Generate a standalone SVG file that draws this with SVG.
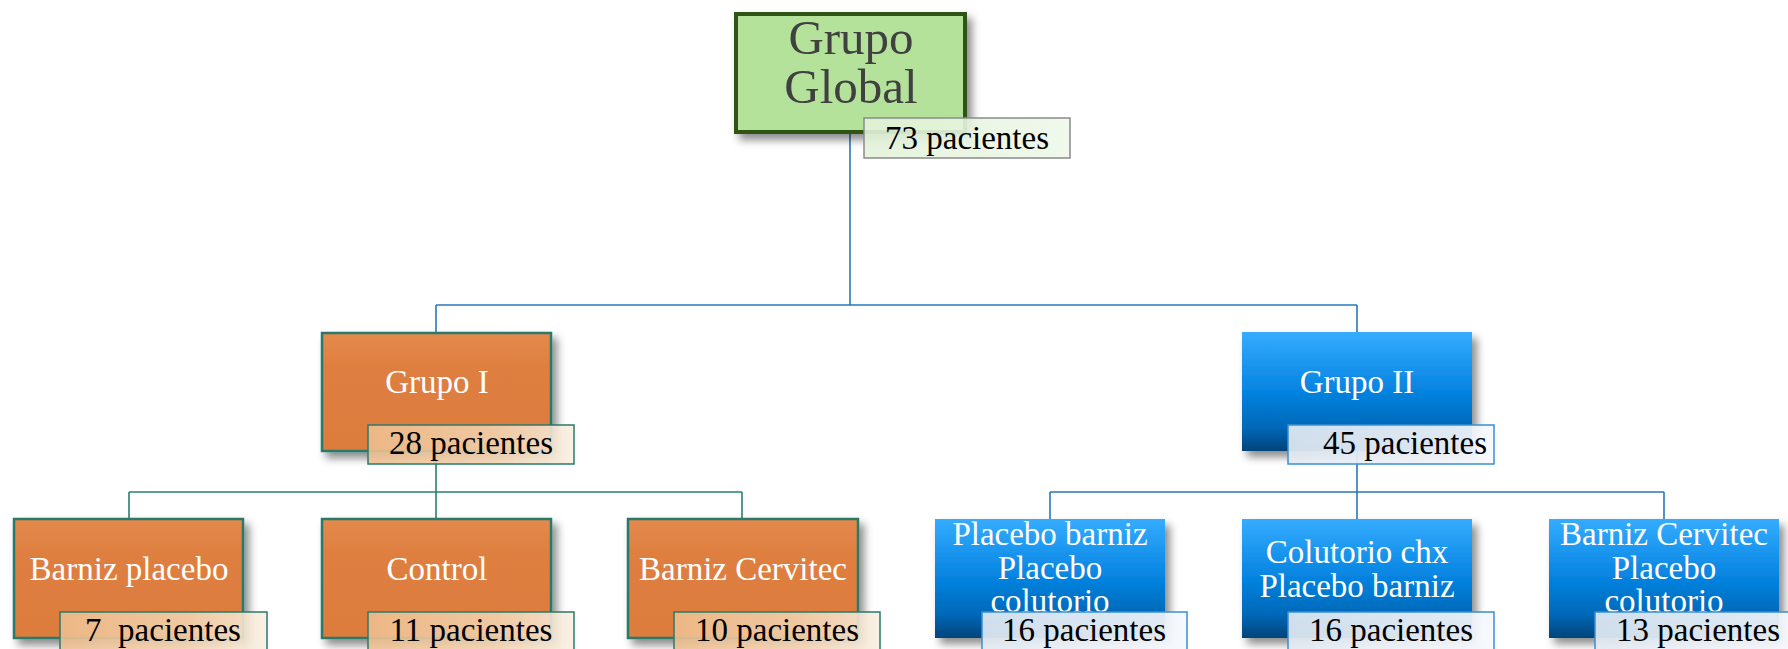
<svg xmlns="http://www.w3.org/2000/svg" width="1788" height="649" viewBox="0 0 1788 649">
<defs>
<filter id="sh" x="-20%" y="-20%" width="150%" height="150%">
<feDropShadow dx="5" dy="6" stdDeviation="4" flood-color="#000" flood-opacity="0.45"/>
</filter>
<linearGradient id="gOr" x1="0" y1="0" x2="0" y2="1">
<stop offset="0" stop-color="#e48a4c"/><stop offset="0.3" stop-color="#de7f40"/><stop offset="1" stop-color="#dc7d3e"/>
</linearGradient>
<linearGradient id="gBl" x1="0" y1="0" x2="0" y2="1">
<stop offset="0" stop-color="#35acff"/><stop offset="0.5" stop-color="#0583e0"/><stop offset="0.8" stop-color="#0268b8"/><stop offset="1" stop-color="#00447a"/>
</linearGradient>
<linearGradient id="lOr" x1="0" y1="0" x2="1" y2="0">
<stop offset="0" stop-color="#efbf8f"/><stop offset="0.6" stop-color="#f2d2ae"/><stop offset="1" stop-color="#f8efe1"/>
</linearGradient>
<linearGradient id="lBl" x1="0" y1="0" x2="1" y2="0">
<stop offset="0" stop-color="#e2eaf3"/><stop offset="1" stop-color="#f5f8fc"/>
</linearGradient>
<linearGradient id="lGr" x1="0" y1="0" x2="1" y2="0">
<stop offset="0" stop-color="#e2f2d8"/><stop offset="1" stop-color="#eef8ea"/>
</linearGradient>
</defs>
<style>
.txt{font-family:"Liberation Serif","Times New Roman",serif;text-anchor:middle}
.w{fill:#ffffff;font-size:33px}
.lab{fill:#000000;font-size:33px;white-space:pre}
.or{fill:url(#gOr);stroke:#2b7a6c;stroke-width:2.5}
.bl{fill:url(#gBl)}
.lor{fill:url(#lOr);fill-opacity:0.88;stroke:#2b7a6c;stroke-width:1.5}
.lbl{fill:url(#lBl);fill-opacity:0.92;stroke:#3a8fd2;stroke-width:1.5}
.cb{fill:none;stroke:#2a78b8;stroke-width:1.6}
.ct{fill:none;stroke:#2a7f72;stroke-width:1.6}
</style>
<rect width="1788" height="649" fill="#ffffff"/>
<g id="connectors">
<path class="cb" d="M850,133 V305 M436,305 H1357 M436,305 V332 M1357,305 V332"/>
<path class="ct" d="M436,451 V492 M129,492 H742 M129,492 V519 M436,492 V519 M742,492 V519"/>
<path class="cb" d="M1357,451 V492 M1050,492 H1664 M1050,492 V519 M1357,492 V519 M1664,492 V519"/>
</g>
<g id="global">
<rect x="736" y="14" width="229" height="118" fill="#b5e29b" stroke="#2f5418" stroke-width="4" filter="url(#sh)"/>
<text class="txt" x="851" y="54" font-size="49" fill="#404040">Grupo</text>
<text class="txt" x="851" y="103" font-size="49" fill="#404040">Global</text>
<rect x="864" y="118" width="206" height="40" fill="url(#lGr)" fill-opacity="0.9" stroke="#8a8a8a" stroke-width="1.5"/>
<text class="txt lab" x="967" y="149">73 pacientes</text>
</g>
<g id="grupo1">
<rect class="or" x="322" y="333" width="229" height="118" filter="url(#sh)"/>
<text class="txt w" x="437" y="393">Grupo I</text>
<rect class="lor" x="368" y="425" width="206" height="39"/>
<text class="txt lab" x="471" y="454">28 pacientes</text>
</g>
<g id="grupo2">
<rect class="bl" x="1242" y="332" width="230" height="119" filter="url(#sh)"/>
<text class="txt w" x="1357" y="393">Grupo II</text>
<rect class="lbl" x="1288" y="425" width="206" height="39"/>
<text class="txt lab" x="1405" y="454">45 pacientes</text>
</g>
<g id="barniz-placebo">
<rect class="or" x="14" y="519" width="229" height="119" filter="url(#sh)"/>
<text class="txt w" x="129" y="580">Barniz placebo</text>
<rect class="lor" x="60" y="612" width="207" height="45"/>
<text class="txt lab" x="163" y="641">7  pacientes</text>
</g>
<g id="control">
<rect class="or" x="322" y="519" width="229" height="119" filter="url(#sh)"/>
<text class="txt w" x="437" y="580">Control</text>
<rect class="lor" x="368" y="612" width="206" height="45"/>
<text class="txt lab" x="471" y="641">11 pacientes</text>
</g>
<g id="barniz-cervitec">
<rect class="or" x="628" y="519" width="230" height="119" filter="url(#sh)"/>
<text class="txt w" x="743" y="580">Barniz Cervitec</text>
<rect class="lor" x="674" y="612" width="206" height="45"/>
<text class="txt lab" x="777" y="641">10 pacientes</text>
</g>
<g id="placebo-barniz">
<rect class="bl" x="935" y="519" width="230" height="119" filter="url(#sh)"/>
<text class="txt w" x="1050" y="545">Placebo barniz</text>
<text class="txt w" x="1050" y="579">Placebo</text>
<text class="txt w" x="1050" y="612">colutorio</text>
<rect class="lbl" x="982" y="612" width="205" height="45"/>
<text class="txt lab" x="1084" y="641">16 pacientes</text>
</g>
<g id="colutorio-chx">
<rect class="bl" x="1242" y="519" width="230" height="119" filter="url(#sh)"/>
<text class="txt w" x="1357" y="563">Colutorio chx</text>
<text class="txt w" x="1357" y="597">Placebo barniz</text>
<rect class="lbl" x="1288" y="612" width="206" height="45"/>
<text class="txt lab" x="1391" y="641">16 pacientes</text>
</g>
<g id="cervitec-placebo">
<rect class="bl" x="1549" y="519" width="230" height="119" filter="url(#sh)"/>
<text class="txt w" x="1664" y="545">Barniz Cervitec</text>
<text class="txt w" x="1664" y="579">Placebo</text>
<text class="txt w" x="1664" y="612">colutorio</text>
<rect class="lbl" x="1595" y="612" width="206" height="45"/>
<text class="txt lab" x="1698" y="641">13 pacientes</text>
</g>
</svg>
